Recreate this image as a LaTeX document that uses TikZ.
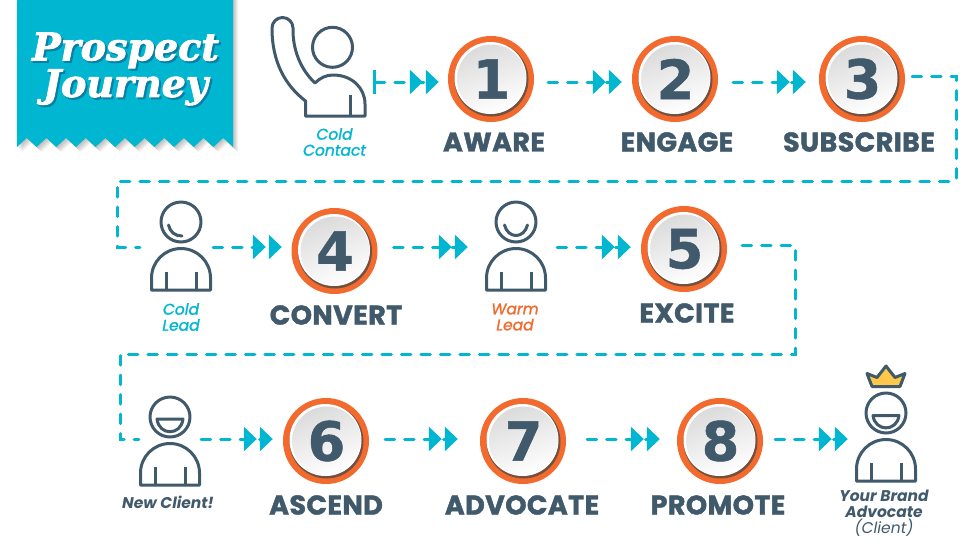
\documentclass[tikz,border=0pt]{standalone}
\usepackage{fontspec}
\setmainfont{Poppins}
\newfontfamily\titlefont[BoldItalicFeatures={FakeBold=2.2}]{DejaVu Serif}
\newfontfamily\digitfont[BoldFeatures={FakeBold=1}]{DejaVu Sans}
\newfontfamily\stagefont[BoldFeatures={FakeBold=1.6,LetterSpace=1.5}]{Poppins}
\newfontfamily\softfont[ItalicFeatures={FakeBold=1.3}]{Poppins}
\usetikzlibrary{arrows.meta}
\definecolor{teal}{HTML}{00B6D0}
\definecolor{tealdark}{HTML}{0A7FA6}
\definecolor{slate}{HTML}{40596B}
\definecolor{rust}{HTML}{F26A2E}
\definecolor{crown}{HTML}{FFC84B}
\tikzstyle{disc}=[circle, fill=rust, inner sep=0pt, minimum size=86pt]
\tikzstyle{digit}=[inner sep=0pt, text=slate, font=\digitfont\bfseries\fontsize{54}{54}\selectfont]
\tikzstyle{stage}=[inner sep=0pt, text=slate, font=\stagefont\bfseries\fontsize{27}{27}\selectfont]
\tikzstyle{tag}=[inner sep=0pt, align=center, font=\softfont\itshape\fontsize{15.5}{16}\selectfont]
\tikzstyle{darktag}=[inner sep=0pt, align=center, text=slate, font=\bfseries\itshape\fontsize{15.5}{16}\selectfont]
\tikzstyle{icon}=[inner sep=0pt, minimum width=62pt, minimum height=88pt]
\tikzstyle{outline}=[draw=slate, line width=3pt, line join=round]
\tikzstyle{headline}=[align=center, inner sep=0pt, font=\titlefont\bfseries\itshape\fontsize{38}{35}\selectfont]
\tikzstyle{flow}=[draw=teal, line width=3pt, line cap=round, dash pattern=on 9.5pt off 10pt]
\tikzstyle{next}=[flow, -{Triangle[length=13pt,width=24pt,sep=3pt]Triangle[length=13pt,width=24pt]}]
\newcommand{\stepdisc}[4]{
  \node[disc] (#1) at (#2,#3) {};
  \fill[color=black!55!rust!60!gray] (#2+0.5,#3+0.5) circle (37);
  \fill[white] (#2-0.5,#3-1) circle (36);
  \shade[left color=black!14, right color=white, shading angle=20] (#2+0.5,#3) circle (34.5);
  \node[digit] (#1num) at (#2+0.5,#3) {#4};
}
\newcommand{\bodyshape}[2]{
  \draw[outline] (#1-29.5,#2+41) -- (#1-29.5,#2+29) arc[start angle=180, end angle=360, radius=29.5]
    -- (#1+29.5,#2+41) -- cycle;
  \draw[outline] (#1-15,#2+23) -- (#1-15,#2+41) (#1+15,#2+23) -- (#1+15,#2+41);
  \draw[outline] (#1,#2-27) circle (20);
}
\begin{document}
\begin{tikzpicture}[x=1pt, y=-1pt]
\useasboundingbox (0,0) rectangle (980,550);
\fill[white] (0,0) rectangle (980,550);
% banner
\foreach \s in {1,...,5}
  \fill[black, opacity=0.05] (17+\s,0) -- (233+\s,0) -- (233+\s,147+\s)
    \foreach \k in {1,...,11} { -- ++(-9.82,-9) -- ++(-9.82,9) } -- cycle;
\fill[teal] (17,0) -- (233,0) -- (233,147)
    \foreach \k in {1,...,11} { -- ++(-9.82,-9) -- ++(-9.82,9) } -- cycle;
\node[headline, text=tealdark] (titleback) at (127.5,71) {Prospect\\Journey};
\node[headline, text=white] (title) at (125.5,69) {Prospect\\Journey};
% numbered steps
\stepdisc{one}{491}{79}{1}
\stepdisc{two}{675}{79}{2}
\stepdisc{three}{862}{79}{3}
\stepdisc{four}{334.5}{251}{4}
\stepdisc{five}{684}{249}{5}
\stepdisc{six}{326}{441}{6}
\stepdisc{seven}{523}{441}{7}
\stepdisc{eight}{720}{441}{8}
\node[stage] (aware) at (494,142) {AWARE};
\node[stage] (engage) at (677,142) {ENGAGE};
\node[stage] (subscribe) at (859,142) {SUBSCRIBE};
\node[stage] (convert) at (336,315) {CONVERT};
\node[stage] (excite) at (687,313) {EXCITE};
\node[stage] (ascend) at (326,505) {ASCEND};
\node[stage] (advocate) at (522,505) {ADVOCATE};
\node[stage] (promote) at (718,505) {PROMOTE};
% people
\node[icon] (contact) at (320,68) {};
\draw[outline] (305.5,116) -- (305.5,101) .. controls (285,85) and (272,62) .. (272,28)
  arc[start angle=180, end angle=360, radius=10.5]
  .. controls (292.5,50) and (301,70) .. (315,83)
  .. controls (320,78) and (326,75) .. (333,75)
  .. controls (352,75) and (365,88) .. (365,104) -- (365,116) -- cycle;
\draw[outline] (350,95) -- (350,116);
\draw[outline] (332.5,47.3) circle (20);
\node[icon] (coldlead) at (181,249) {};
\bodyshape{181}{249}
\draw[outline, line cap=round] (168.5,225) .. controls (170,232) and (175,236) .. (182,236);
\node[icon] (warmlead) at (516,249) {};
\bodyshape{516}{249}
\draw[outline, line cap=round] (504.5,225) .. controls (508,239) and (524,239) .. (527.5,225);
\node[icon] (newclient) at (170,444) {};
\bodyshape{170}{444}
\draw[outline, fill=white] (157,419) -- (183,419) .. controls (181,436) and (159,436) .. (157,419) -- cycle;
\node[icon] (brand) at (886,440) {};
\bodyshape{886}{440}
\draw[outline, fill=white] (873,415.5) -- (899,415.5) .. controls (897,432) and (875,432) .. (873,415.5) -- cycle;
\draw[outline, fill=crown] (872,386.5) -- (867,373.5) -- (877,377.5) -- (886,366) -- (895,377.5) -- (905,373.5) -- (900,386.5) -- cycle;
\node[tag, text=teal] (contacttag) at (334.5,142) {Cold\\Contact};
\node[tag, text=teal] (leadtag) at (181,317) {Cold\\Lead};
\node[tag, text=rust] (warmtag) at (515,317) {Warm\\Lead};
\node[darktag] (clienttag) at (168,502) {New Client!};
\node[darktag] (brandtag) at (884,513) {Your Brand\\Advocate\\{\mdseries (Client)}};
% connectors
\coordinate (contactout) at (373,82);
\coordinate (railatop) at (956,76);
\coordinate (railabot) at (956,181);
\coordinate (railaleft) at (117,181);
\coordinate (railaend) at (117,247);
\coordinate (railbtop) at (795,245);
\coordinate (railbbot) at (795,354);
\coordinate (railbleft) at (120,354);
\coordinate (railbend) at (120,439);
\draw[next, {Bar[width=24pt,line cap=butt]}-{Triangle[length=13pt,width=24pt,sep=3pt]Triangle[length=13pt,width=24pt]}, shorten >=9pt] (contactout) -- ([yshift=-3pt]one.west);
\path
  ([yshift=-3pt]one.east) edge[next, shorten <=14pt, shorten >=10pt] ([yshift=-3pt]two.west)
  ([yshift=-3pt]two.east) edge[next, shorten <=15pt, shorten >=13pt] ([yshift=-3pt]three.west)
  ([yshift=2pt]coldlead.east) edge[next, shorten <=1pt, shorten >=9.5pt] ([yshift=4pt]four.west)
  ([yshift=4pt]four.east) edge[next, shorten <=16pt, shorten >=17pt] ([yshift=2pt]warmlead.west)
  ([yshift=2pt]warmlead.east) edge[next, shorten <=10pt, shorten >=10pt] ([yshift=2pt]five.west)
  ([yshift=5pt]newclient.east) edge[next, shorten >=10pt] ([yshift=2pt]six.west)
  ([yshift=2pt]six.east) edge[next, shorten <=16pt, shorten >=22pt] ([yshift=2pt]seven.west)
  ([yshift=2pt]seven.east) edge[next, shorten <=21pt, shorten >=17pt] ([yshift=2pt]eight.west)
  ([yshift=2pt]eight.east) edge[next, shorten <=12pt, shorten >=7pt] ([yshift=1pt]brand.west)
;
\draw[flow, shorten <=7pt, shorten >=10pt] ([yshift=3pt]three.east) -- (railatop) -- (railabot) -- (railaleft) -- (railaend) -- ([yshift=2pt]coldlead.west);
\draw[flow, shorten <=15pt] ([yshift=4pt]five.east) -- (railbtop) -- (railbbot) -- (railbleft) -- (railbend) -- ([yshift=5pt]newclient.west);
\end{tikzpicture}
\end{document}
